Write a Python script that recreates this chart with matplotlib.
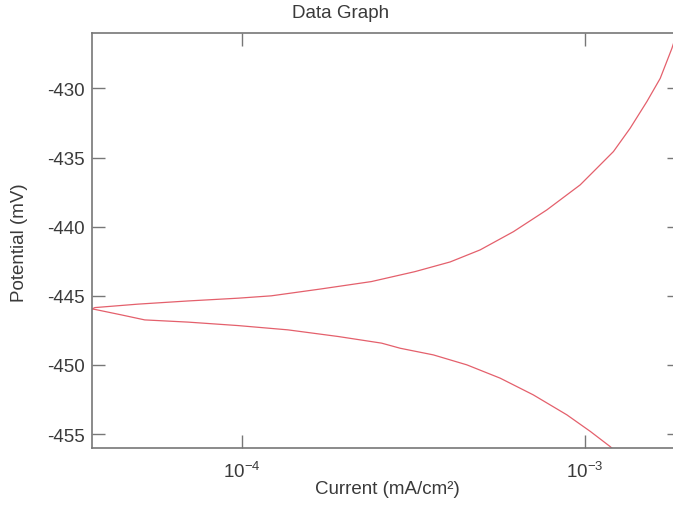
#!/usr/bin/env python3
"""Tafel-style polarisation plot: potential vs. current density (log x)."""
import matplotlib

matplotlib.use("Agg")
import matplotlib.pyplot as plt

# anodic branch (upper) and cathodic branch (lower), current in mA/cm^2
anodic_current = [3.65e-5, 3.72e-5, 4.97e-5, 6.96e-5, 9.73e-5, 1.216e-4,
                  1.70e-4, 2.38e-4, 3.19e-4, 4.04e-4, 4.94e-4, 6.18e-4,
                  7.73e-4, 9.67e-4, 1.081e-3, 1.209e-3, 1.352e-3, 1.513e-3,
                  1.655e-3, 1.79e-3, 1.89e-3]
anodic_potential = [-445.95, -445.85, -445.6, -445.37, -445.17, -445.0,
                    -444.5, -443.97, -443.25, -442.55, -441.68, -440.36,
                    -438.79, -436.98, -435.78, -434.57, -432.89, -430.96,
                    -429.28, -427.11, -425.3]

cathodic_current = [3.65e-5, 3.72e-5, 4.45e-5, 5.2e-5, 6.96e-5, 9.73e-5,
                    1.36e-4, 1.905e-4, 2.55e-4, 2.89e-4, 3.61e-4, 4.52e-4,
                    5.65e-4, 7.06e-4, 8.84e-4, 1.035e-3, 1.183e-3, 1.22e-3]
cathodic_potential = [-445.95, -445.98, -446.38, -446.74, -446.9, -447.15,
                      -447.46, -447.94, -448.42, -448.79, -449.27, -449.99,
                      -450.95, -452.16, -453.6, -454.8, -455.9, -456.2]

y_ticks = [-455, -450, -445, -440, -435, -430]
x_ticks = [1e-4, 1e-3]
x_tick_labels = [r"$10^{-4}$", r"$10^{-3}$"]

TEXT = "#3a3a3a"
SPINE = "#777777"
LINE = "#e4606c"

plt.rcParams.update({
    "font.family": ["Liberation Sans", "DejaVu Sans"],
    "font.size": 13.5,
    "mathtext.fontset": "custom",
    "mathtext.rm": "Liberation Sans",
    "mathtext.it": "Liberation Sans",
})

W, H = 673, 506
fig = plt.figure(figsize=(W / 100, H / 100), dpi=100)
left, right, top, bottom = 92, 680, 34, 449
ax = fig.add_axes([left / W, 1 - bottom / H, (right - left) / W, (bottom - top) / H])

ax.plot(anodic_current, anodic_potential, color=LINE, lw=0.9)
ax.plot(cathodic_current, cathodic_potential, color=LINE, lw=0.9)

ax.set_xscale("log")
ax.set_xlim(3.65e-5, 1.89e-3)
ax.set_ylim(-456, -426)
ax.set_xticks(x_ticks)
ax.set_xticklabels(x_tick_labels)
ax.xaxis.set_minor_locator(matplotlib.ticker.NullLocator())
ax.set_yticks(y_ticks)
ax.set_yticklabels([str(v) for v in y_ticks])

for s in ax.spines.values():
    s.set_color(SPINE)
    s.set_linewidth(1.2)

ax.tick_params(axis="both", direction="in", length=9.5, width=1.0,
               color=SPINE, labelcolor=TEXT, top=True, right=True)
ax.tick_params(axis="y", pad=5)
ax.tick_params(axis="x", pad=9)

fig.text(341 / W, 1 - 14 / H, "Data Graph", ha="center", va="center",
         color=TEXT, fontsize=13.5)
fig.text(387 / W, 1 - 490 / H, "Current (mA/cm²)", ha="center", va="center",
         color=TEXT, fontsize=13.5)
fig.text(20 / W, 1 - 243 / H, "Potential (mV)", ha="center", va="center",
         rotation=90, color=TEXT, fontsize=13.5)

fig.savefig("out.png", dpi=100)
